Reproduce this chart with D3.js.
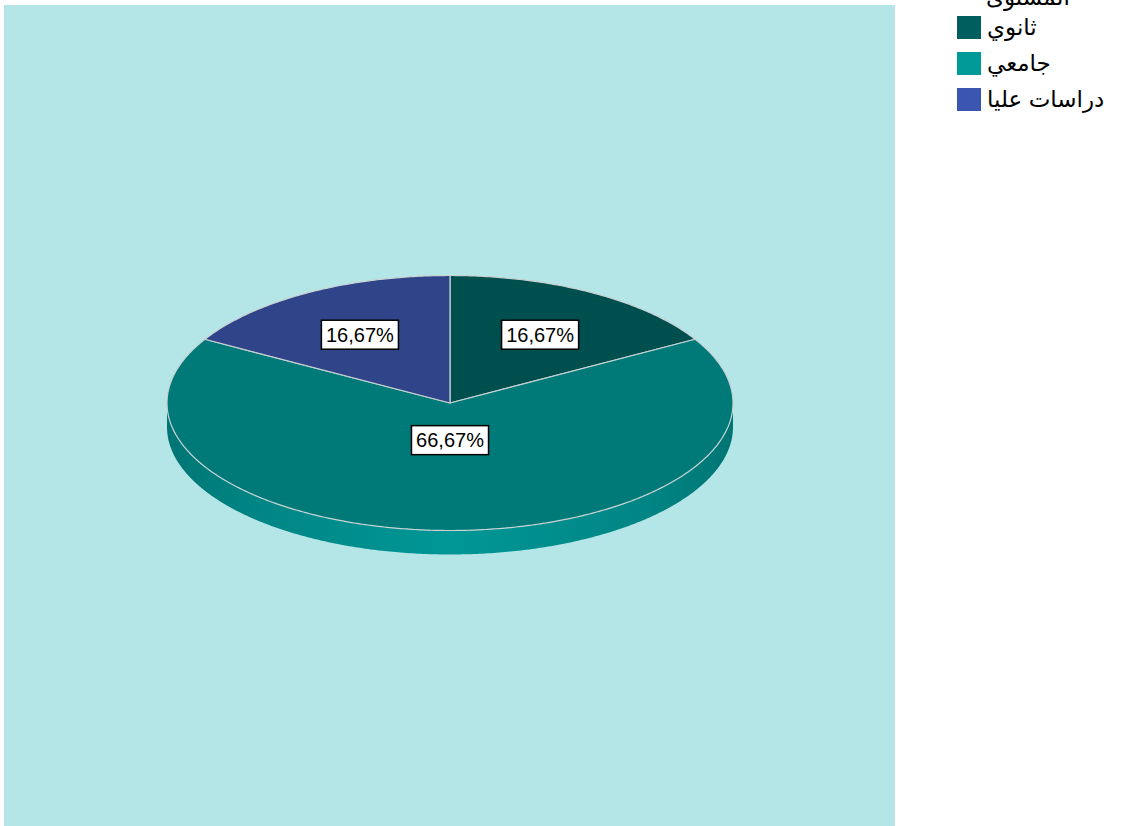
<!DOCTYPE html>
<html>
<head>
<meta charset="utf-8">
<script src="https://cdn.jsdelivr.net/npm/d3@7"></script>
<style>
  html, body { margin: 0; padding: 0; background: #ffffff; }
  svg { display: block; }
</style>
</head>
<body>
<svg id="chart" width="1121" height="826"></svg>
<script>
// Education level distribution
const categories = ["ثانوي", "جامعي", "دراسات عليا"];
const values = [16.67, 66.67, 16.67];
const labels = ["16,67%", "66,67%", "16,67%"];
const legendTitle = "المستوى";

const topColors = ["#004f4f", "#007a78", "#2f4489"];
const swatchColors = ["#005f5e", "#009a98", "#3b56b0"];

const svg = d3.select("#chart");
const W = 1121, H = 826;

// plot background
svg.append("rect").attr("x", 4).attr("y", 5).attr("width", 891).attr("height", H - 5)
  .attr("fill", "#b5e6e7");

// pie geometry (tilted ellipse with extruded rim)
const cx = 450, cy = 403, rx = 283, ry = 127.5, depth = 24;

const pie = d3.pie().sort(null).value(d => d)
  .startAngle(0).endAngle(2 * Math.PI);
const arcs = pie(values);

const px = a => cx + rx * Math.sin(a);
const py = a => cy - ry * Math.cos(a);

function topPath(a0, a1) {
  const n = Math.max(8, Math.ceil((a1 - a0) / 0.01));
  const p = d3.path();
  p.moveTo(cx, cy);
  for (let i = 0; i <= n; i++) {
    const a = a0 + (a1 - a0) * i / n;
    p.lineTo(px(a), py(a));
  }
  p.closePath();
  return p.toString();
}

function sidePath(a0, a1) {
  // visible part of the rim lies between PI/2 and 3PI/2
  const s = Math.max(a0, Math.PI / 2), e = Math.min(a1, 3 * Math.PI / 2);
  if (e <= s) return null;
  const n = Math.max(8, Math.ceil((e - s) / 0.01));
  const p = d3.path();
  for (let i = 0; i <= n; i++) {
    const a = s + (e - s) * i / n;
    if (i === 0) p.moveTo(px(a), py(a)); else p.lineTo(px(a), py(a));
  }
  for (let i = n; i >= 0; i--) {
    const a = s + (e - s) * i / n;
    p.lineTo(px(a), py(a) + depth);
  }
  p.closePath();
  return p.toString();
}

const defs = svg.append("defs");
const grad = defs.append("linearGradient").attr("id", "rim")
  .attr("gradientUnits", "userSpaceOnUse")
  .attr("x1", cx - rx).attr("x2", cx + rx).attr("y1", 0).attr("y2", 0);
grad.append("stop").attr("offset", "0%").attr("stop-color", "#007574");
grad.append("stop").attr("offset", "15%").attr("stop-color", "#008584");
grad.append("stop").attr("offset", "50%").attr("stop-color", "#009796");
grad.append("stop").attr("offset", "85%").attr("stop-color", "#008584");
grad.append("stop").attr("offset", "100%").attr("stop-color", "#007574");

const g = svg.append("g");

arcs.forEach((d, i) => {
  const sp = sidePath(d.startAngle, d.endAngle);
  if (sp) g.append("path").attr("d", sp).attr("fill", i === 1 ? "url(#rim)" : topColors[i]);
});

arcs.forEach((d, i) => {
  g.append("path").attr("d", topPath(d.startAngle, d.endAngle))
    .attr("fill", topColors[i])
    .attr("stroke", "#c9d3d3").attr("stroke-width", 1.2).attr("stroke-linejoin", "round");
});

// value labels at each sector's centroid
arcs.forEach((d, i) => {
  const half = (d.endAngle - d.startAngle) / 2;
  const mid = d.startAngle + half;
  const k = 2 * Math.sin(half) / (3 * half);
  const lx = cx + k * rx * Math.sin(mid);
  const ly = cy - k * ry * Math.cos(mid) + 2;
  const lg = g.append("g");
  const t = lg.append("text").attr("x", lx).attr("y", ly)
    .attr("text-anchor", "middle").attr("dominant-baseline", "central")
    .attr("font-family", "Arial, 'Liberation Sans', sans-serif")
    .attr("font-size", 20).attr("fill", "#000").text(labels[i]);
  const bb = t.node().getBBox();
  lg.insert("rect", "text")
    .attr("x", lx - bb.width / 2 - 4.5).attr("y", ly - 14.5)
    .attr("width", bb.width + 9).attr("height", 29)
    .attr("fill", "#ffffff").attr("stroke", "#000").attr("stroke-width", 1.5);
});

// legend
const lgX = 957, lgY = 16, lgStep = 36, sw = 24;
svg.append("text").attr("x", 1028).attr("y", 5).attr("text-anchor", "middle")
  .attr("font-family", "Arial, 'DejaVu Sans', sans-serif").attr("font-size", 23)
  .attr("fill", "#000").text(legendTitle);

categories.forEach((c, i) => {
  const y = lgY + i * lgStep;
  svg.append("rect").attr("x", lgX).attr("y", y).attr("width", sw).attr("height", sw - 1)
    .attr("fill", swatchColors[i]);
  svg.append("text").attr("x", lgX + sw + 6).attr("y", y + 19)
    .attr("text-anchor", "start")
    .attr("font-family", "Arial, 'DejaVu Sans', sans-serif").attr("font-size", 23)
    .attr("fill", "#000").text(c);
});
</script>
</body>
</html>
